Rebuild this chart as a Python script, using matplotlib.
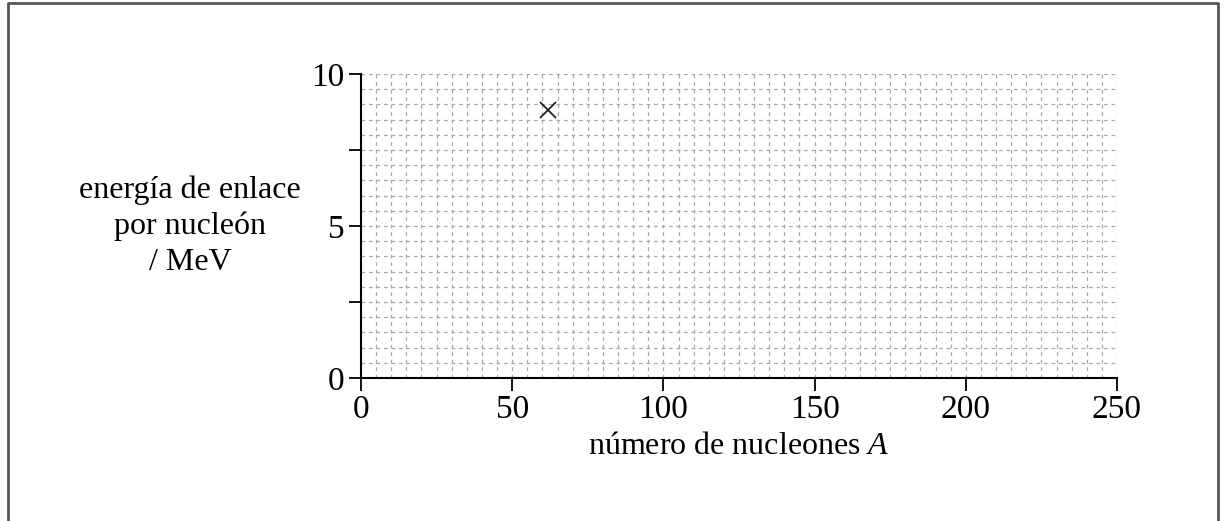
import numpy as np
import matplotlib.pyplot as plt

plt.rcParams['font.family'] = 'Liberation Serif'
plt.rcParams['mathtext.fontset'] = 'custom'
plt.rcParams['mathtext.it'] = 'Liberation Serif:italic'
plt.rcParams['mathtext.rm'] = 'Liberation Serif'

# data
nucleons = [62]
binding_energy = [8.8]
x_ticks = [0, 50, 100, 150, 200, 250]
y_ticks = [0, 2.5, 5, 7.5, 10]
y_tick_labels = ['0', '', '5', '', '10']

fig = plt.figure(figsize=(12.26, 5.21), dpi=100)
ax = fig.add_axes([361/1226, 1-378/521, 756/1226, 304/521])

ax.set_xlim(0, 250)
ax.set_ylim(0, 10)

# graph paper grid
grid_kw = dict(color='#a8a8a8', linewidth=0.9, linestyle=(0, (3, 3)), zorder=0)
for gx in np.arange(5, 251, 5):
    ax.axvline(gx, **grid_kw)
for gy in np.arange(0.5, 10.01, 0.5):
    ax.axhline(gy, **grid_kw)

ax.plot(nucleons, binding_energy, linestyle='none', marker='x', color='#222222',
        markersize=12, markeredgewidth=1.3, zorder=3)

ax.set_xticks(x_ticks)
ax.set_yticks(y_ticks)
ax.set_yticklabels(y_tick_labels)
ax.tick_params(direction='out', length=9, width=1.3, labelsize=24, pad=3)
for s in ['top', 'right']:
    ax.spines[s].set_visible(False)
for s in ['left', 'bottom']:
    ax.spines[s].set_linewidth(1.5)
    ax.spines[s].set_zorder(4)

fig.text(190/1226, 1-226/521, 'energía de enlace\npor nucleón\n/ MeV', ha='center', va='center',
         multialignment='center', fontsize=23, linespacing=1.3)
fig.text(739/1226, 1-447/521, 'número de nucleones $\\mathit{A}$', ha='center', va='center', fontsize=23)

# outer frame (open at the bottom)
fig.add_artist(plt.Line2D([8/1226, 8/1226, 1218/1226, 1218/1226], [0, 1-3/521, 1-3/521, 0],
                          transform=fig.transFigure, color='#555555', linewidth=2))

fig.savefig('out.png', dpi=100)
